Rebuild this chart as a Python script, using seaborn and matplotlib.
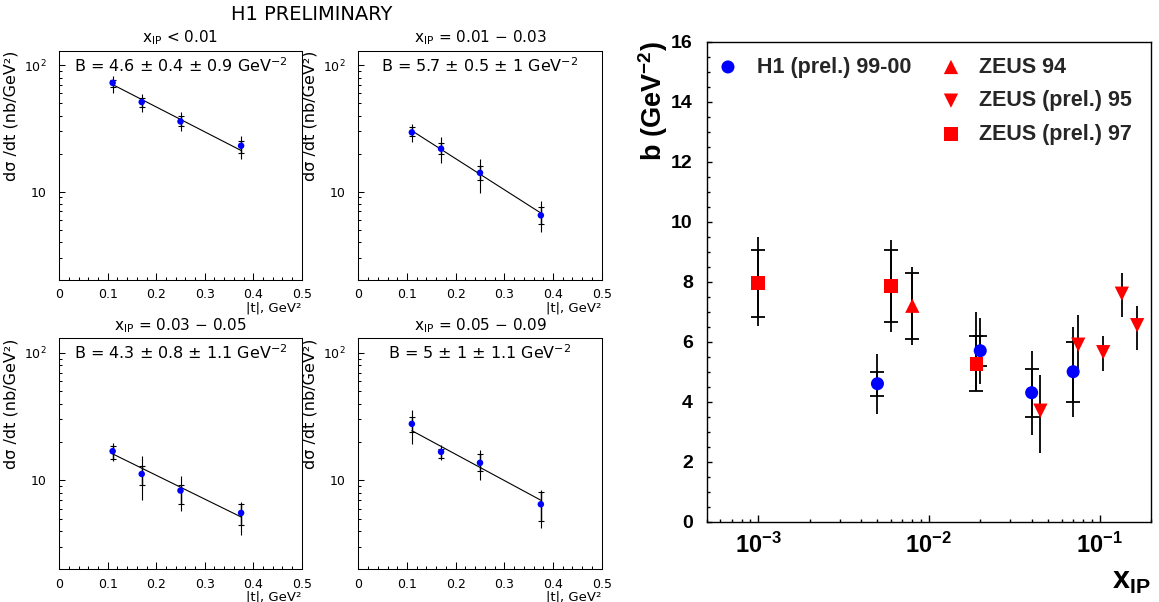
import numpy as np
import pandas as pd
import matplotlib
matplotlib.use("Agg")
import matplotlib.pyplot as plt
import seaborn as sns
from matplotlib.ticker import LogLocator, MultipleLocator, NullFormatter, FuncFormatter

# ------------------------------------------------------------------ data
# small panels: d sigma / dt versus |t|
t_values = [0.11, 0.17, 0.25, 0.375]
fit_t = [0.11, 0.375]
panel_ranges = ["< 0.01", "= 0.01 \u2212 0.03", "= 0.03 \u2212 0.05", "= 0.05 \u2212 0.09"]
B_central = ["4.6", "5.7", "4.3", "5"]
B_stat = ["0.4", "0.5", "0.8", "1"]
B_sys = ["0.9", "1", "1.1", "1.1"]

xsec_p1 = [72.8, 51.3, 36.0, 23.1]
stat_lo_p1 = [67.8, 47.2, 33.3, 20.4]
stat_hi_p1 = [77.3, 55.2, 39.5, 25.2]
tot_lo_p1 = [60.0, 42.9, 30.1, 18.3]
tot_hi_p1 = [83.0, 59.8, 42.4, 27.8]
fit_p1 = [70.5, 21.2]

xsec_p2 = [29.5, 21.9, 14.1, 6.5]
stat_lo_p2 = [27.5, 20.0, 12.4, 5.56]
stat_hi_p2 = [32.4, 24.2, 15.9, 7.5]
tot_lo_p2 = [24.9, 17.0, 9.8, 4.8]
tot_hi_p2 = [34.1, 27.0, 18.3, 8.4]
fit_p2 = [30.4, 6.78]

xsec_p3 = [16.9, 11.2, 8.3, 5.54]
stat_lo_p3 = [14.8, 9.25, 6.56, 4.49]
stat_hi_p3 = [18.7, 12.9, 9.25, 6.56]
tot_lo_p3 = [14.1, 7.05, 5.7, 3.74]
tot_hi_p3 = [19.6, 15.4, 10.7, 6.7]
fit_p3 = [16.1, 5.15]

xsec_p4 = [27.7, 16.7, 13.7, 6.48]
stat_lo_p4 = [24.0, 15.0, 11.8, 4.82]
stat_hi_p4 = [31.4, 17.7, 16.2, 8.05]
tot_lo_p4 = [19.3, 14.4, 10.1, 4.2]
tot_hi_p4 = [35.9, 18.8, 17.4, 8.45]
fit_p4 = [24.5, 6.97]

small_xticks = [0, 0.1, 0.2, 0.3, 0.4, 0.5]
small_yticks = [10, 100]
small_ytick_labels = ["10", r"$\mathregular{10^2}$"]

# right panel: slope b versus x_IP
h1_x = [0.005, 0.02, 0.04, 0.07]
h1_b = [4.6, 5.7, 4.3, 5.0]
h1_stat = [0.4, 0.5, 0.8, 1.0]
h1_tot = [1.0, 1.1, 1.4, 1.5]

z94_x = [0.008]
z94_b = [7.2]
z94_stat = [1.1]
z94_tot = [1.3]

z95_x = [0.045, 0.075, 0.105, 0.135, 0.166]
z95_b = [3.7, 5.9, 5.65, 7.6, 6.55]
z95_lo = [2.3, 4.9, 5.02, 6.83, 5.72]
z95_hi = [4.89, 6.89, 6.19, 8.3, 7.19]

z97_x = [0.001, 0.006, 0.019]
z97_b = [7.95, 7.86, 5.26]
z97_stat_lo = [6.83, 6.66, 4.37]
z97_stat_hi = [9.06, 9.06, 6.2]
z97_tot_lo = [6.52, 6.33, 4.35]
z97_tot_hi = [9.5, 9.39, 7.0]

right_xticks = [1e-3, 1e-2, 1e-1]
right_xtick_labels = [r"$\mathregular{10^{-3}}$", r"$\mathregular{10^{-2}}$", r"$\mathregular{10^{-1}}$"]

legend_labels = ["H1 (prel.) 99-00", "ZEUS 94", "ZEUS (prel.) 95", "ZEUS (prel.) 97"]

# ------------------------------------------------------------------ style
sns.set_theme(style="ticks")
plt.rcParams["font.family"] = ["DejaVu Sans"]
plt.rcParams["mathtext.fontset"] = "dejavusans"
plt.rcParams["axes.linewidth"] = 0.75

W, H = 1159, 602
fig = plt.figure(figsize=(W / 100, H / 100), dpi=100)
fig.patch.set_facecolor("white")


def px_axes(left, top, right, bottom):
    return fig.add_axes([left / W, 1 - bottom / H, (right - left) / W, (bottom - top) / H])


small_axes = [
    px_axes(59.3, 51, 301.7, 280),
    px_axes(358.3, 51, 601.7, 280),
    px_axes(59.3, 338.3, 301.7, 569.3),
    px_axes(358.3, 338.3, 601.7, 569.3),
]

panels = [
    (xsec_p1, stat_lo_p1, stat_hi_p1, tot_lo_p1, tot_hi_p1, fit_p1),
    (xsec_p2, stat_lo_p2, stat_hi_p2, tot_lo_p2, tot_hi_p2, fit_p2),
    (xsec_p3, stat_lo_p3, stat_hi_p3, tot_lo_p3, tot_hi_p3, fit_p3),
    (xsec_p4, stat_lo_p4, stat_hi_p4, tot_lo_p4, tot_hi_p4, fit_p4),
]

for i, (ax, (xs, slo, shi, tlo, thi, fit)) in enumerate(zip(small_axes, panels)):
    y = np.array(xs)
    ax.errorbar(t_values, y, yerr=[y - np.array(tlo), np.array(thi) - y], fmt="none",
                ecolor="black", elinewidth=0.8, capsize=0, zorder=2)
    ax.errorbar(t_values, y, yerr=[y - np.array(slo), np.array(shi) - y], fmt="none",
                ecolor="black", elinewidth=1.0, capsize=2.5, capthick=0.8, zorder=2)
    sns.lineplot(x=fit_t, y=fit, ax=ax, color="black", linewidth=0.8, zorder=1)
    df = pd.DataFrame({"t": t_values, "xsec": xs})
    sns.scatterplot(data=df, x="t", y="xsec", ax=ax, color="#0000ff", s=22,
                    edgecolor="none", zorder=3)
    ax.set_yscale("log")
    ax.set_xlim(0, 0.5)
    ax.set_ylim(2, 130)
    ax.set_xticks(small_xticks)
    ax.xaxis.set_major_formatter(FuncFormatter(lambda v, p: f"{v:g}"))
    ax.xaxis.set_minor_locator(MultipleLocator(0.02))
    ax.set_yticks(small_yticks)
    ax.set_yticklabels(small_ytick_labels)
    ax.yaxis.set_minor_locator(LogLocator(base=10, subs=np.arange(2, 10)))
    ax.yaxis.set_minor_formatter(NullFormatter())
    ax.tick_params(axis="both", which="both", direction="in", top=False, right=False,
                   width=0.75, color="black", labelsize=9, labelcolor="black")
    ax.tick_params(axis="x", which="major", length=5, pad=6)
    ax.tick_params(axis="x", which="minor", length=2.5)
    ax.tick_params(axis="y", which="major", length=4.5, pad=9)
    ax.tick_params(axis="y", which="minor", length=2.2)
    for s in ax.spines.values():
        s.set_color("black")
        s.set_linewidth(0.75)
    ax.set_facecolor("white")
    ax.set_ylabel("d\u03c3 /dt (nb/GeV\u00b2)", loc="top", fontsize=11.5, labelpad=4, color="black")
    ax.set_xlabel("|t|, GeV\u00b2", loc="right", fontsize=9.5, labelpad=0, color="black")
    ax.set_title(r"$\mathregular{x_{IP}}$ " + panel_ranges[i], fontsize=11, pad=6, color="black")
    ax.text(0.5, 0.936, f"B = {B_central[i]} \u00b1 {B_stat[i]} \u00b1 {B_sys[i]} GeV" + r"$^{-2}$",
            transform=ax.transAxes, ha="center", va="center", fontsize=11.5, color="black")

fig.text(312 / W, 1 - 14 / H, "H1 PRELIMINARY", ha="center", va="center", fontsize=14, color="black")

# ------------------------------------------------------------------ right panel
ax = px_axes(706.7, 41.7, 1151, 521.7)
ax.set_facecolor("white")
LW = 1.3
CAP = 5

hx, hb = np.array(h1_x), np.array(h1_b)
ax.errorbar(hx, hb, yerr=h1_tot, fmt="none", ecolor="black", elinewidth=LW, capsize=0, zorder=2)
ax.errorbar(hx, hb, yerr=h1_stat, fmt="none", ecolor="black", elinewidth=LW, capsize=CAP, capthick=LW, zorder=2)

ax.errorbar(z94_x, z94_b, yerr=z94_tot, fmt="none", ecolor="black", elinewidth=LW, capsize=0, zorder=2)
ax.errorbar(z94_x, z94_b, yerr=z94_stat, fmt="none", ecolor="black", elinewidth=LW, capsize=CAP, capthick=LW, zorder=2)

zb = np.array(z95_b)
ax.errorbar(z95_x, zb, yerr=[zb - np.array(z95_lo), np.array(z95_hi) - zb], fmt="none",
            ecolor="black", elinewidth=LW, capsize=0, zorder=2)

qb = np.array(z97_b)
ax.errorbar(z97_x, qb, yerr=[qb - np.array(z97_tot_lo), np.array(z97_tot_hi) - qb], fmt="none",
            ecolor="black", elinewidth=LW, capsize=0, zorder=2)
ax.errorbar(z97_x, qb, yerr=[qb - np.array(z97_stat_lo), np.array(z97_stat_hi) - qb], fmt="none",
            ecolor="black", elinewidth=LW, capsize=CAP, capthick=LW, zorder=2)

sns.scatterplot(x=h1_x, y=h1_b, ax=ax, marker="o", s=88, color="#0000ff", edgecolor="none",
                label=legend_labels[0], zorder=3)
sns.scatterplot(x=z94_x, y=z94_b, ax=ax, marker="^", s=106, color="#ff0000", edgecolor="none",
                label=legend_labels[1], zorder=3)
sns.scatterplot(x=z95_x, y=z95_b, ax=ax, marker="v", s=106, color="#ff0000", edgecolor="none",
                label=legend_labels[2], zorder=3)
sns.scatterplot(x=z97_x, y=z97_b, ax=ax, marker="s", s=100, color="#ff0000", edgecolor="none",
                label=legend_labels[3], zorder=3)

ax.set_xscale("log")
ax.set_xlim(5e-4, 0.2)
ax.set_ylim(0, 16)
ax.set_xticks(right_xticks)
ax.set_xticklabels(right_xtick_labels)
ax.xaxis.set_minor_locator(LogLocator(base=10, subs=np.arange(2, 10)))
ax.xaxis.set_minor_formatter(NullFormatter())
ax.yaxis.set_major_locator(MultipleLocator(2))
ax.yaxis.set_minor_locator(MultipleLocator(0.5))
ax.tick_params(axis="both", which="both", direction="in", top=False, right=False, color="black",
               width=1.0, labelcolor="black")
ax.tick_params(axis="x", which="major", length=4.8, pad=8)
ax.tick_params(axis="x", which="minor", length=2.4)
ax.tick_params(axis="y", which="major", length=3.8, pad=10)
ax.tick_params(axis="y", which="minor", length=1.9)
for lab in ax.get_yticklabels():
    lab.set_fontfamily("Liberation Sans")
    lab.set_fontweight("bold")
    lab.set_fontsize(14)
for lab in ax.get_xticklabels():
    lab.set_fontfamily("Liberation Sans")
    lab.set_fontweight("bold")
    lab.set_fontsize(17)
for s in ax.spines.values():
    s.set_color("black")
    s.set_linewidth(1.0)

ax.set_ylabel(r"b (GeV$\mathregular{^{-2}}$)", loc="top", fontsize=19.5, fontweight="bold",
              fontfamily="Liberation Sans", labelpad=1, color="black")
ax.set_xlabel(r"$\mathregular{x_{IP}}$", loc="right", fontsize=22, fontweight="bold",
              fontfamily="Liberation Sans", labelpad=6, color="black")

handles, labels = ax.get_legend_handles_labels()
prop = {"family": "Liberation Sans", "weight": "bold", "size": 15.5}
leg1 = ax.legend(handles[:1], labels[:1], loc="upper left", bbox_to_anchor=(717.2 / W, 1 - 56.6 / H),
                 bbox_transform=fig.transFigure, frameon=False, prop=prop, borderpad=0,
                 borderaxespad=0, handlelength=1.0, handletextpad=0.85, scatterpoints=1)
ax.add_artist(leg1)
ax.legend(handles[1:], labels[1:], loc="upper left", bbox_to_anchor=(940.2 / W, 1 - 56.6 / H),
          bbox_transform=fig.transFigure, frameon=False, prop=prop, borderpad=0,
          borderaxespad=0, handlelength=1.0, handletextpad=0.8, labelspacing=0.59, scatterpoints=1)

fig.savefig("out.png", dpi=100, facecolor="white")
